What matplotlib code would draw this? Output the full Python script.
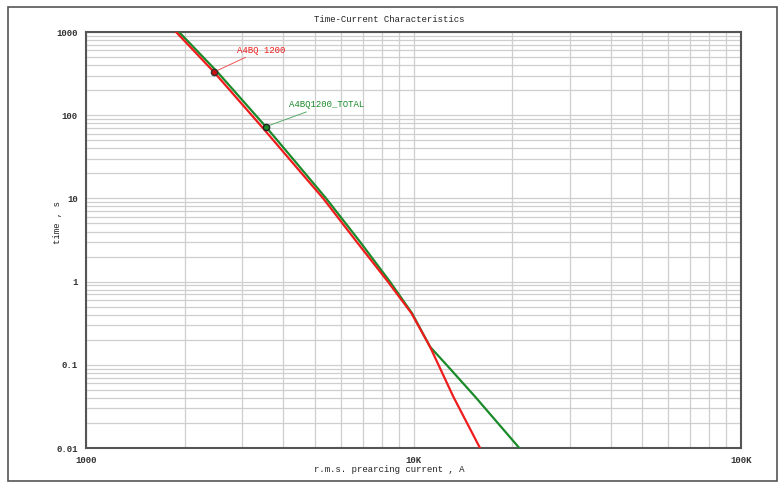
import matplotlib
matplotlib.use("Agg")
import matplotlib.pyplot as plt
from matplotlib.patches import Rectangle
from matplotlib.ticker import FixedLocator, LogLocator, NullFormatter

# fuse curves (current in A, time in s)
red_current = [1884, 2459, 3470, 4170, 5300, 6710, 8350, 9860, 11230, 11990, 13230, 15960]
red_time = [1000, 330, 70, 30, 10, 3, 1, 0.416, 0.165, 0.095, 0.0414, 0.01]

green_current = [1923, 2520, 3540, 4280, 5410, 6870, 8470, 9900, 11230, 12760, 15420, 21040]
green_time = [1000, 330, 72.8, 30, 10, 3, 1, 0.416, 0.165, 0.095, 0.0414, 0.01]

red_mark = (2459, 330)
green_mark = (3540, 72.8)
red_name = "A4BQ 1200"
green_name = "A4BQ1200_TOTAL"

x_ticks = [1000, 10000, 100000]
x_labels = ["1000", "10K", "100K"]
y_ticks = [0.01, 0.1, 1, 10, 100, 1000]
y_labels = ["0.01", "0.1", "1", "10", "100", "1000"]

plt.rcParams["font.family"] = ["Liberation Mono", "DejaVu Sans Mono"]

fig = plt.figure(figsize=(7.79, 4.83), dpi=100)
ax = fig.add_axes([86 / 779, 1 - 448 / 483, 655 / 779, 416 / 483])

# outer frame around whole chart
fig.patches.append(Rectangle((8 / 779, 1 - 481 / 483), 769 / 779, 474 / 483,
                             transform=fig.transFigure, fill=False,
                             edgecolor="#555555", linewidth=1.2))

ax.set_xscale("log")
ax.set_yscale("log")
ax.set_xlim(1000, 100000)
ax.set_ylim(0.01, 1000)

ax.xaxis.set_major_locator(FixedLocator(x_ticks))
ax.set_xticklabels(x_labels)
ax.yaxis.set_major_locator(FixedLocator(y_ticks))
ax.set_yticklabels(y_labels)
ax.xaxis.set_minor_locator(LogLocator(base=10, subs=range(2, 10)))
ax.yaxis.set_minor_locator(LogLocator(base=10, subs=range(2, 10)))
ax.xaxis.set_minor_formatter(NullFormatter())
ax.yaxis.set_minor_formatter(NullFormatter())

ax.grid(True, which="both", color="#cfcfcf", linewidth=0.9)
ax.set_axisbelow(True)
ax.tick_params(which="both", length=0, labelsize=6.5, colors="#333333")
ax.tick_params(axis="x", pad=6)
ax.tick_params(axis="y", pad=6)
for lab in ax.get_xticklabels() + ax.get_yticklabels():
    lab.set_fontweight("bold")
for sp in ax.spines.values():
    sp.set_color("#555555")
    sp.set_linewidth(1.5)

ax.plot(green_current, green_time, color="#1a8a2a", linewidth=1.6, zorder=3)
ax.plot(red_current, red_time, color="#ee1c1c", linewidth=1.6, zorder=4)

ax.plot(*red_mark, "o", color="#cc1010", markeredgecolor="#333333",
        markersize=4.5, zorder=5)
ax.plot(*green_mark, "o", color="#1a8a2a", markeredgecolor="#222222",
        markersize=4.5, zorder=5)

ax.annotate(red_name, xy=red_mark, xytext=(23, 22), textcoords="offset pixels",
            color="#ee1c1c", fontsize=6.5, va="center", ha="left",
            arrowprops=dict(arrowstyle="-", color="#ee5555", linewidth=0.7,
                            shrinkA=0, shrinkB=2))
ax.annotate(green_name, xy=green_mark, xytext=(23, 22), textcoords="offset pixels",
            color="#1a8a2a", fontsize=6.5, va="center", ha="left",
            arrowprops=dict(arrowstyle="-", color="#55aa66", linewidth=0.7,
                            shrinkA=0, shrinkB=2))

fig.text(0.5, 1 - 20 / 483, "Time-Current Characteristics", ha="center",
         va="center", fontsize=6.5, color="#222222")
fig.text(0.5, 1 - 470 / 483, "r.m.s. prearcing current , A", ha="center",
         va="center", fontsize=6.5, color="#222222")
fig.text(57 / 779, 1 - 222 / 483, "time , s", ha="center", va="center",
         rotation=90, fontsize=6.5, color="#222222")

fig.savefig("out.png", dpi=100)
